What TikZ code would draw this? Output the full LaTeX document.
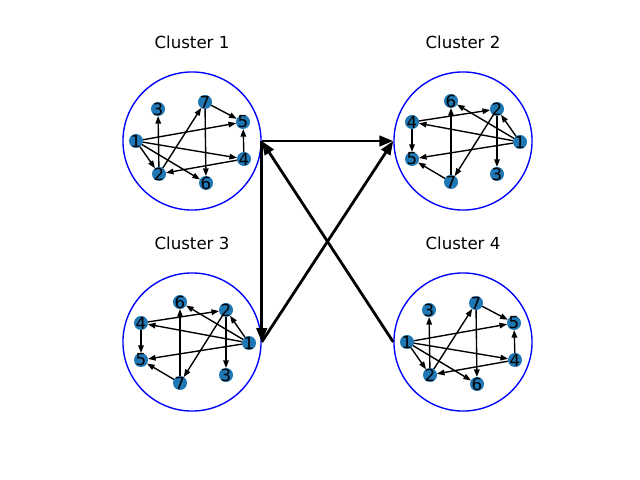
\documentclass[tikz,border=0pt]{standalone}
\usepackage{fontspec}
\setmainfont{DejaVu Sans}
\usetikzlibrary{arrows.meta}
\definecolor{nodeblue}{HTML}{1F78B4}
\tikzset{
  vtx/.style={circle,fill=nodeblue,minimum size=0.14in,inner sep=0pt,outer sep=0pt,
    label={[lbl]center:#1}},
  lbl/.style={font=\fontsize{12}{14}\selectfont,inner sep=0pt,text=black},
  arr/.style={-{Triangle[length=5.5pt,width=4pt]},line width=1pt,black},
  bigarr/.style={-{Triangle[length=10pt,width=7.5pt]},line width=2pt,black},
  clus/.style={circle,draw=blue,line width=1pt,minimum size=1.38in,inner sep=0pt},
  ttl/.style={anchor=base,font=\fontsize{12}{14}\selectfont,inner sep=0pt}
}
\newcommand\mkedges[1]{%
  \foreach \a/\b in {1/2,1/4,1/5,1/6,2/3,2/7,7/5,7/6,4/5,4/2}{\draw[arr] (#1n\a) -- (#1n\b);}}
\newcommand\mkclusterA[3]{%
  \begin{scope}[shift={(#2,#3)}]
    \node[clus] (#1) at (0,0) {};
    \node[vtx=1] (#1n1) at (-56,0) {};
    \node[vtx=2] (#1n2) at (-33,33) {};
    \node[vtx=3] (#1n3) at (-34,-32) {};
    \node[vtx=4] (#1n4) at (52,18) {};
    \node[vtx=5] (#1n5) at (51,-19) {};
    \node[vtx=6] (#1n6) at (14,42) {};
    \node[vtx=7] (#1n7) at (13,-39) {};
  \end{scope}
  \mkedges{#1}}
\newcommand\mkclusterB[3]{%
  \begin{scope}[shift={(#2,#3)}]
    \node[clus] (#1) at (0,0) {};
    \node[vtx=1] (#1n1) at (57,1) {};
    \node[vtx=2] (#1n2) at (34,-32) {};
    \node[vtx=3] (#1n3) at (34,33) {};
    \node[vtx=4] (#1n4) at (-51,-19) {};
    \node[vtx=5] (#1n5) at (-51,18) {};
    \node[vtx=6] (#1n6) at (-12,-40) {};
    \node[vtx=7] (#1n7) at (-12,41) {};
  \end{scope}
  \mkedges{#1}}
\begin{document}
\begin{tikzpicture}[x=0.01in,y=-0.01in]
\useasboundingbox (0,0) rectangle (640,480);
\mkclusterA{ca}{192}{141}
\mkclusterB{cb}{463}{141}
\mkclusterB{cc}{192}{342}
\mkclusterA{cd}{463}{342}
\node[ttl] (t1) at (192,49) {Cluster 1};
\node[ttl] (t2) at (463,49) {Cluster 2};
\node[ttl] (t3) at (192,250) {Cluster 3};
\node[ttl] (t4) at (463,250) {Cluster 4};
\draw[bigarr] (ca.east) -- (cb.west);
\draw[bigarr] (ca.east) -- (cc.east);
\draw[bigarr] (cc.east) -- (cb.west);
\draw[bigarr] (cd.west) -- (ca.east);
\end{tikzpicture}
\end{document}
